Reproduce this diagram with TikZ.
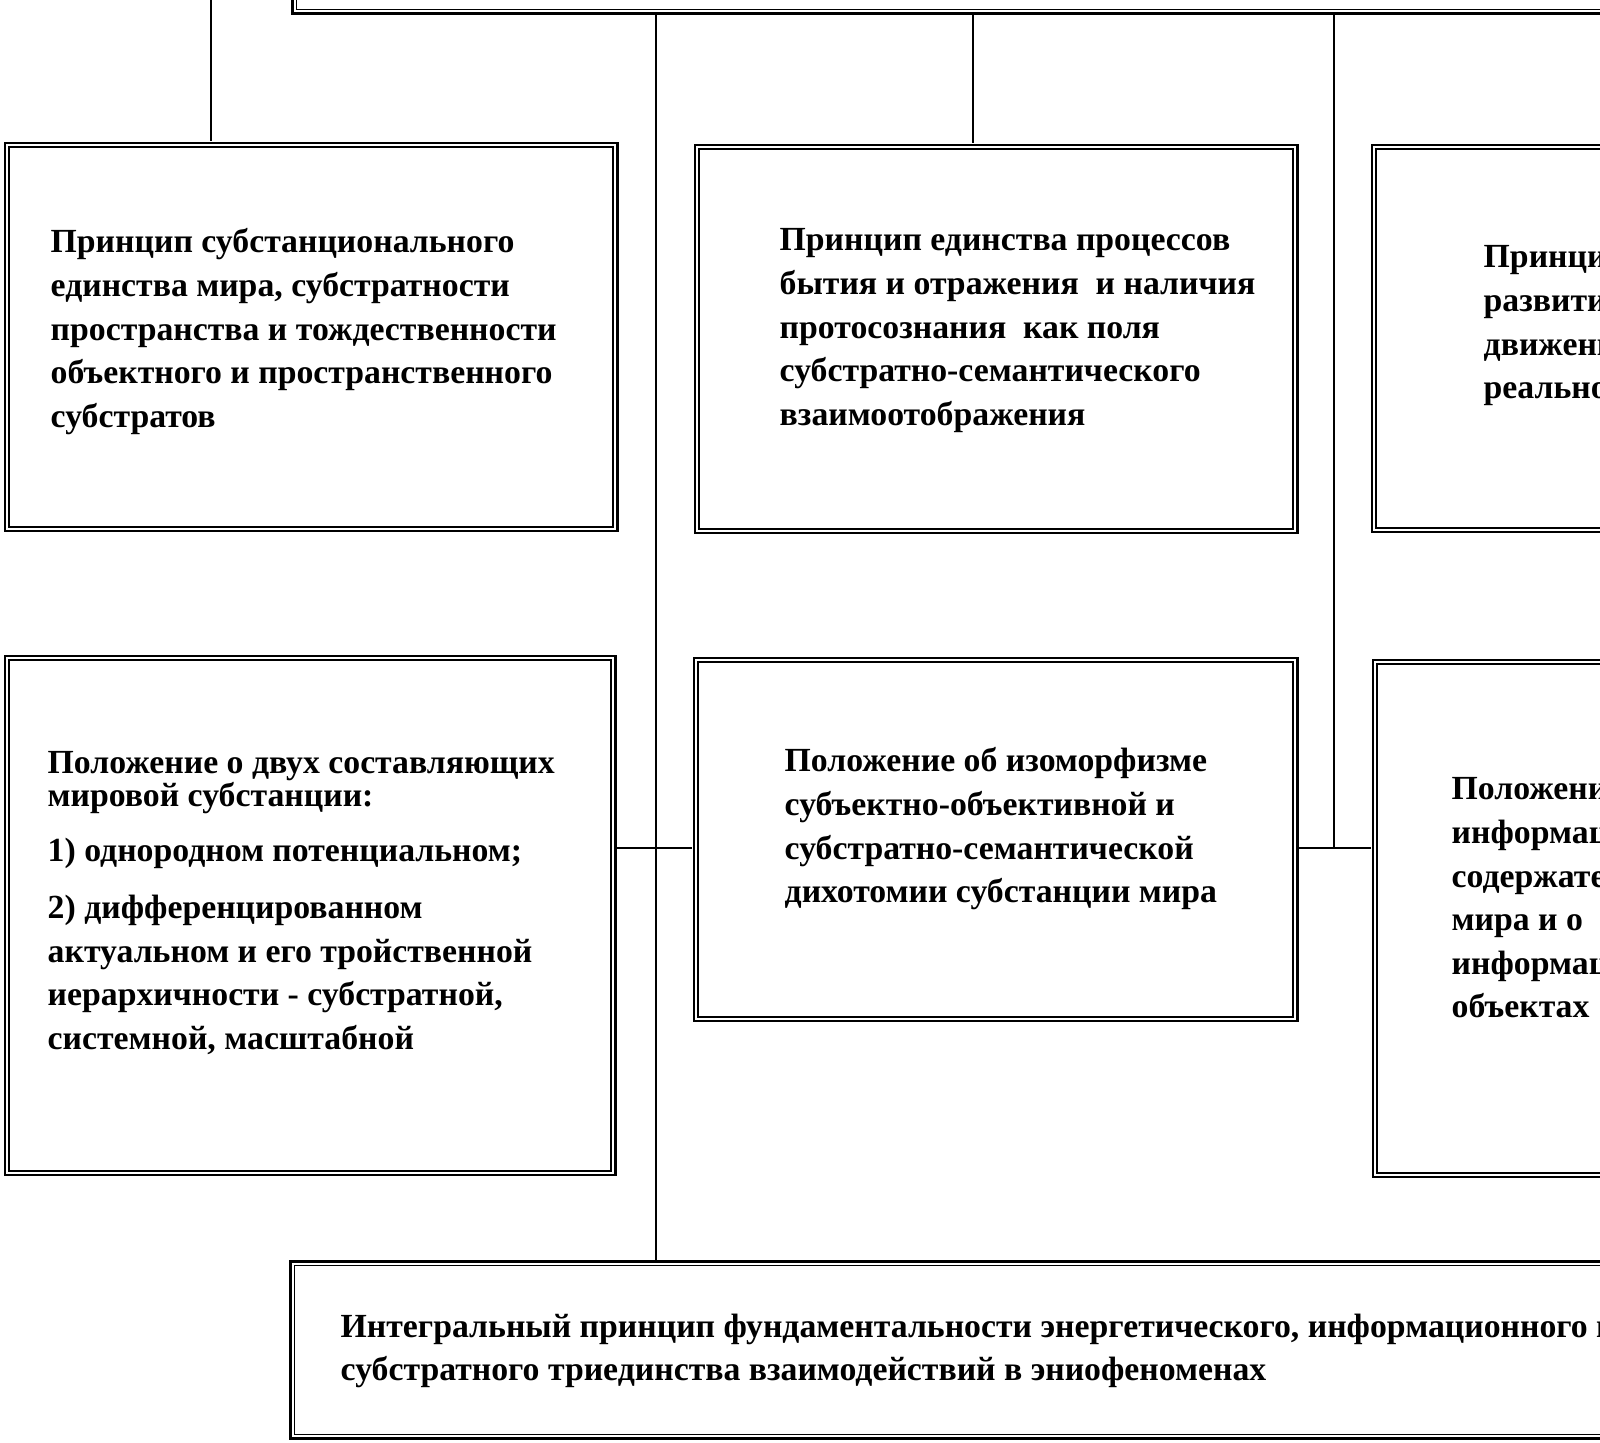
\documentclass[tikz,border=0pt]{standalone}
\usepackage{fontspec}
\setmainfont{Liberation Serif}
\usetikzlibrary{positioning}
\tikzset{
  blok/.style  = {rectangle, draw, line width=0.75pt, outer sep=0.4pt, inner sep=0,
                  append after command={\pgfextra{\draw[line width=0.42pt]
                    ([shift={(1.6pt,1.6pt)}]\tikzlastnode.south west) rectangle
                    ([shift={(-1.6pt,-1.6pt)}]\tikzlastnode.north east);}}},
  tekst/.style = {anchor=north west, align=left, inner sep=0, font=\bfseries\fontsize{9.6}{12.4}\selectfont},
  link/.style  = {line width=0.5pt}
}

\begin{document}
\begin{tikzpicture}[x=0.01cm, y=-0.01cm]
  \useasboundingbox (0,0) rectangle (1600,1442);
  \clip (0,0) rectangle (1600,1442);
  % opornye tochki dlya liniy
  \coordinate (s0) at (211,0);
  \coordinate (s1) at (656,0);
  \coordinate (s2) at (973,0);
  \coordinate (s3) at (1334,0);
  \coordinate (h)  at (0,848);
  % bloki
  \node[blok, minimum width=16cm, minimum height=3cm, anchor=south west] (verh) at (291,15) {};
  \node[blok, minimum width=6.12cm, minimum height=3.88cm] (p1) at (311,337) {};
  \node[blok, minimum width=6.02cm, minimum height=3.88cm] (p2) at (996,339) {};
  \node[blok, minimum width=6.02cm, minimum height=3.87cm] (p3) at (1673,338.5) {};
  \node[blok, minimum width=6.10cm, minimum height=5.19cm] (p4) at (310,915.5) {};
  \node[blok, minimum width=6.03cm, minimum height=3.63cm] (p5) at (995.5,839.5) {};
  \node[blok, minimum width=6.03cm, minimum height=5.17cm] (p6) at (1674.5,918.5) {};
  \node[blok, minimum width=16cm, minimum height=1.77cm, anchor=north west] (niz) at (289,1260) {};
  % teksty
  \node[tekst] (t1) at (50,228) {Принцип субстанционального\\единства мира, субстратности\\пространства и тождественности\\объектного и пространственного\\субстратов};
  \node[tekst] (t2) at (779,228) {Принцип единства процессов\\бытия и отражения\ \ и наличия\\протосознания\ \ как поля\\субстратно-семантического\\взаимоотображения};
  \node[tekst] (t3) at (1483,245) {Принци\\развити\\движени\\реально};
  \node[tekst] (t4) at (47,751) {Положение о двух составляющих\\[-3pt]мировой субстанции:\\[3pt]1) однородном потенциальном;\\[4pt]2) дифференцированном\\актуальном и его тройственной\\иерархичности - субстратной,\\системной, масштабной};
  \node[tekst] (t5) at (784,747) {Положение об изоморфизме\\субъектно-объективной и\\субстратно-семантической\\дихотомии субстанции мира};
  \node[tekst] (t6) at (1451,777) {Положени\\информац\\содержате\\мира и о\\информац\\объектах};
  \node[tekst] (t7) at (340,1313) {Интегральный принцип фундаментальности энергетического, информационного и\\субстратного триединства взаимодействий в эниофеноменах};
  % svyazi
  \draw[link] (s0) -- (s0 |- p1.north);
  \draw[link] (verh.south -| s1) -- (niz.north -| s1);
  \draw[link] (verh.south -| s2) -- (p2.north -| s2);
  \draw[link] (verh.south -| s3) -- (s3 |- h);
  \draw[link] (p4.east |- h) -- (p5.west |- h);
  \draw[link] (p5.east |- h) -- (p6.west |- h);
\end{tikzpicture}
\end{document}
